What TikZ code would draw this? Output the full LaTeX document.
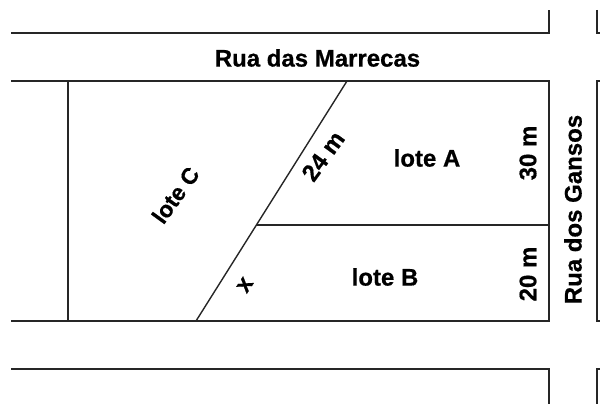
\documentclass[tikz,border=0pt]{standalone}
\usepackage{fontspec}
\setmainfont{Liberation Sans}[BoldFeatures={FakeBold=0.6}]
\tikzset{
  plan/.style={draw=black!85,line width=1.4pt,line cap=butt,line join=miter},
  lbl/.style={font=\fontsize{24}{28}\selectfont\bfseries,inner sep=0pt,text=black}
}
\begin{document}
\begin{tikzpicture}[x=1pt,y=-1pt]
\useasboundingbox (0,0) rectangle (600,404);
% blocks
\draw[plan] (11,33) -- (549,33) -- (549,10);
\draw[plan] (597,10) -- (597,33) -- (600,33);
\draw[plan] (11,81) -- (549,81) -- (549,321) -- (11,321);
\draw[plan] (600,81) -- (597,81) -- (597,321) -- (600,321);
\draw[plan] (11,369) -- (549,369) -- (549,404);
\draw[plan] (600,369) -- (597,369) -- (597,404);
% lots
\draw[plan] (68,81) -- (68,321);
\draw[plan] (196,321) -- (347,81);
\draw[plan] (257,225) -- (549,225);
% labels
\node[lbl] (marrecas) at (317.5,58) {Rua das Marrecas};
\node[lbl,rotate=90] (gansos) at (573,209.5) {Rua dos Gansos};
\node[lbl] (loteA) at (427,158) {lote A};
\node[lbl] (loteB) at (385,277) {lote B};
\node[lbl,rotate=54,scale=.95] (loteC) at (175.5,195) {lote C};
\node[lbl,rotate=54] (m24) at (323,156) {24 m};
\node[lbl,rotate=90] (m30) at (528,153) {30 m};
\node[lbl,rotate=90] (m20) at (528,274) {20 m};
\node[lbl,rotate=57] (xlab) at (245,285) {x};
\end{tikzpicture}
\end{document}
